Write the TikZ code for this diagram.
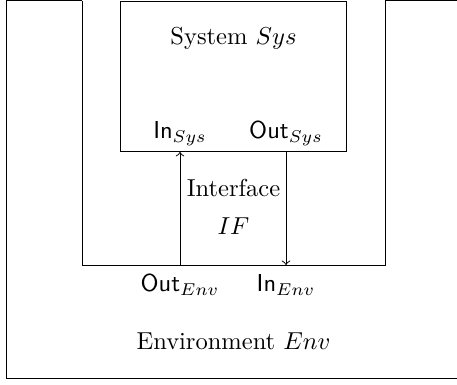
\documentclass[tikz,border=0pt]{standalone}
\begin{document}
\begin{tikzpicture}[x=0.408pt,y=-0.408pt,
  line/.style={draw, line width=0.4pt},
  lbl/.style={inner sep=0pt, anchor=base},
  sysbox/.style={draw, line width=0.4pt, minimum width=92.6pt, minimum height=61.6pt, inner sep=0pt}]
\useasboundingbox (0,0) rectangle (457,385);
% environment outline
\draw[line] (82,1) -- (6,1) -- (6,378) -- (470,378);
\draw[line] (82,1) -- (82,265) -- (385,265) -- (385,1) -- (470,1);
% system box
\node[sysbox] (sys) at (233.5,76.5) {};
\node[lbl] (systxt) at (233.5,45) {System $Sys$};
\node[lbl] (insys) at (180,139) {\textsf{In}$_{Sys}$};
\node[lbl] (outsys) at (286,139) {\textsf{Out}$_{Sys}$};
\node[lbl] (iftxt) at (233.5,197) {Interface};
\node[lbl] (ifname) at (233.5,235) {$IF$};
\node[lbl] (outenv) at (180,292) {\textsf{Out}$_{Env}$};
\node[lbl] (inenv) at (286,292) {\textsf{In}$_{Env}$};
\node[lbl] (envtxt) at (233.5,350) {Environment $Env$};
\coordinate (oe) at (180,265);
\coordinate (is) at (180,152);
\coordinate (os) at (286,152);
\coordinate (ie) at (286,265);
\draw[->] (oe) -- (is);
\draw[->] (os) -- (ie);
\end{tikzpicture}
\end{document}
